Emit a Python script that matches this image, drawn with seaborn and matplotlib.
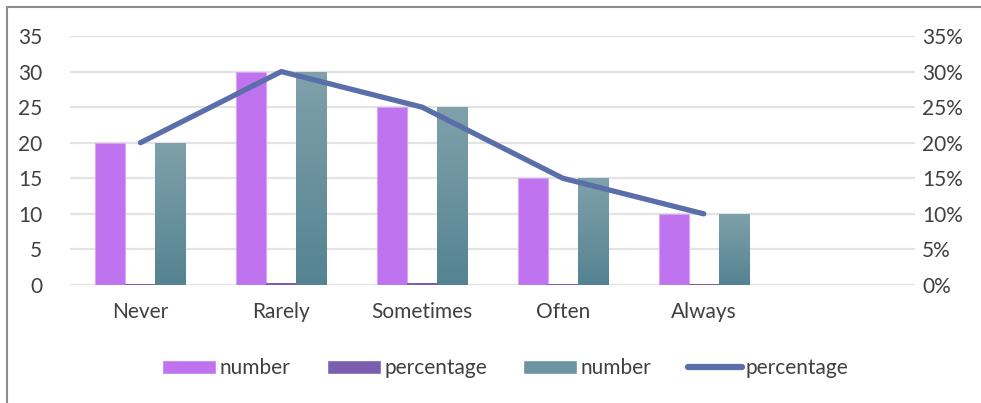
import numpy as np
import pandas as pd
import matplotlib
matplotlib.use("Agg")
import matplotlib.pyplot as plt
from matplotlib.patches import Patch
from matplotlib.lines import Line2D
from matplotlib.colors import LinearSegmentedColormap
import seaborn as sns

# ---- data ----
categories = ["Never", "Rarely", "Sometimes", "Often", "Always"]
number_a = [20, 30, 25, 15, 10]
percentage_bar = [0.20, 0.30, 0.25, 0.15, 0.10]
number_b = [20, 30, 25, 15, 10]
percentage_line = [0.20, 0.30, 0.25, 0.15, 0.10]
left_ticks = [0, 5, 10, 15, 20, 25, 30, 35]
right_ticks = [0, 0.05, 0.10, 0.15, 0.20, 0.25, 0.30, 0.35]
legend_labels = ["number", "percentage", "number", "percentage"]

PURPLE = "#BF73EE"
PURPLE_EDGE = "#D9A6F5"
DARK_PURPLE = "#7B5EB0"
TEAL_TOP = "#7FA1AB"
TEAL_BOTTOM = "#558391"
LINE = "#5A6EAA"
TEXT = "#404040"
GRID = "#E3E3E3"
FS = 15

sns.set_theme(style="white")
plt.rcParams["font.family"] = ["Lato", "DejaVu Sans"]

df = pd.DataFrame({
    "category": categories * 3,
    "series": ["a"] * 5 + ["p"] * 5 + ["b"] * 5,
    "value": number_a + percentage_bar + number_b,
})

fig = plt.figure(figsize=(9.81, 4.03), dpi=100)
ax = fig.add_axes([70 / 981, 1 - 285 / 403, (915 - 70) / 981, (285 - 36) / 403])

sns.barplot(data=df, x="category", y="value", hue="series", order=categories,
            hue_order=["a", "p", "b"],
            palette={"a": PURPLE, "p": DARK_PURPLE, "b": TEAL_TOP},
            width=0.64, saturation=1, legend=False, ax=ax, zorder=2,
            linewidth=0)

for bar in ax.containers[0]:
    bar.set_edgecolor(PURPLE_EDGE)
    bar.set_linewidth(0.8)

# vertical gradient fill for the second "number" series
cmap = LinearSegmentedColormap.from_list("teal", [TEAL_BOTTOM, TEAL_TOP])
grad = np.linspace(0, 1, 256).reshape(-1, 1)
for bar in ax.containers[2]:
    x0, y0 = bar.get_x(), bar.get_y()
    w, h = bar.get_width(), bar.get_height()
    im = ax.imshow(grad, cmap=cmap, origin="lower", aspect="auto",
                   extent=(x0, x0 + w, y0, y0 + h), zorder=2.1)
    im.set_clip_path(bar)
    bar.set_facecolor("none")

ax.set_xlim(-0.5, 5.5)
ax.set_ylim(0, 35)
ax.set_yticks(left_ticks)
ax.set_yticklabels([str(t) for t in left_ticks])
ax.set_xlabel("")
ax.set_ylabel("")
ax.yaxis.grid(True, color=GRID, linewidth=1.6, zorder=0)
ax.set_axisbelow(True)
for s in ax.spines.values():
    s.set_visible(False)
ax.tick_params(axis="both", length=0, colors=TEXT, labelsize=FS)
ax.tick_params(axis="y", pad=20)
ax.tick_params(axis="x", pad=12)

ax2 = ax.twinx()
sns.lineplot(x=np.arange(len(categories)), y=percentage_line, ax=ax2,
             color=LINE, linewidth=3.8, solid_capstyle="round",
             solid_joinstyle="round", zorder=3)
ax2.set_ylim(0, 0.35)
ax2.set_yticks(right_ticks)
ax2.set_yticklabels([f"{int(round(t * 100))}%" for t in right_ticks])
for s in ax2.spines.values():
    s.set_visible(False)
ax2.tick_params(axis="y", length=0, colors=TEXT, labelsize=FS, pad=5)
ax2.set_xlim(-0.5, 5.5)

handles = [
    Patch(facecolor=PURPLE),
    Patch(facecolor=DARK_PURPLE),
    Patch(facecolor="#6C95A1"),
    Line2D([0], [0], color=LINE, linewidth=4.5, solid_capstyle="round"),
]
fig.legend(handles, legend_labels, loc="center", bbox_to_anchor=(505 / 981, 1 - 368 / 403),
           ncol=4, frameon=False, fontsize=FS, labelcolor=TEXT,
           handlelength=2.6, handleheight=0.65, handletextpad=0.15,
           columnspacing=1.75)

# chart frame (left and top edges)
fig.add_artist(Line2D([6.5 / 981, 6.5 / 981, 1], [0, 1 - 6.5 / 403, 1 - 6.5 / 403],
                      transform=fig.transFigure, color="#8C8C8C", linewidth=1.5))

fig.savefig("out.png", dpi=100)
